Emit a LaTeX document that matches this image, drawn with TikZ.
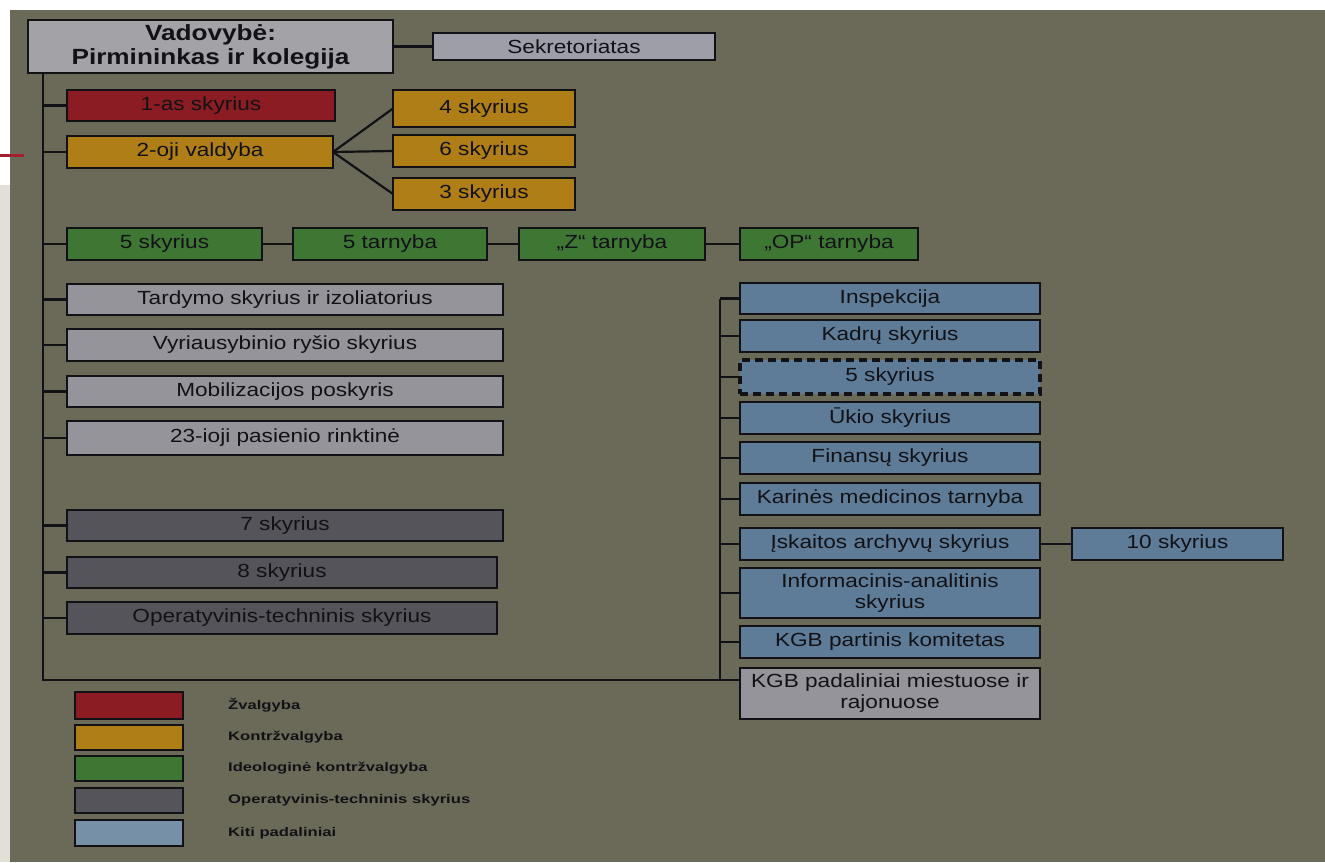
\documentclass[tikz,border=0pt]{standalone}
\usepackage{fontspec}
\setmainfont{Liberation Sans}[FakeStretch=1.19]
\newfontfamily\legfont{Liberation Sans}[FakeStretch=1.33]
\definecolor{panel}{RGB}{107,105,88}
\definecolor{strip}{RGB}{226,223,217}
\definecolor{lgray}{RGB}{148,148,154}
\definecolor{vgray}{RGB}{162,162,167}
\definecolor{sgray}{RGB}{158,158,168}
\definecolor{kred}{RGB}{140,28,36}
\definecolor{korange}{RGB}{176,126,22}
\definecolor{kgreen}{RGB}{62,118,52}
\definecolor{kdark}{RGB}{84,84,90}
\definecolor{kblue}{RGB}{94,124,152}
\definecolor{ink}{RGB}{18,18,22}
\definecolor{redline}{RGB}{165,30,45}
\begin{document}
\begin{tikzpicture}[x=1pt,y=-1pt,
  kbox/.style={draw=ink, line width=2.5pt, inner sep=0pt, outer sep=0pt, text=ink,
    font=\fontsize{19}{21}\selectfont, align=center},
  dbox/.style={kbox, dash pattern=on 8pt off 5pt, line width=3.2pt},
  conn/.style={draw=ink, line width=2.2pt},
  legbox/.style={draw=ink, line width=2.6pt, inner sep=0pt, outer sep=0pt, minimum width=108pt},
  leglabel/.style={anchor=west, inner sep=0pt, text=ink, font=\legfont\bfseries\fontsize{12.5}{14}\selectfont}]
\useasboundingbox (0,0) rectangle (1325,862);
\fill[white] (0,0) rectangle (1325,862);
\fill[strip] (0,185) rectangle (10,862);
\fill[panel] (10,10) rectangle (1325,862);
\draw[redline, line width=3pt] (0,155) -- (24,155);

% head
\node[kbox, fill=vgray, minimum width=365pt, minimum height=53pt,
  font=\bfseries\fontsize{22}{24}\selectfont] (vad) at (210.5,46.5) {Vadovybė:\\Pirmininkas ir kolegija};
\node[kbox, fill=sgray, minimum width=282pt, minimum height=27pt] (sek) at (574,46.5) {Sekretoriatas};

% red / orange
\node[kbox, fill=kred, minimum width=268pt, minimum height=31pt] (s1) at (201,105.5) {1-as skyrius};
\node[kbox, fill=korange, minimum width=266pt, minimum height=32pt] (v2) at (200,152) {2-oji valdyba};
\node[kbox, fill=korange, minimum width=182pt, minimum height=37pt] (s4) at (484,108.5) {4 skyrius};
\node[kbox, fill=korange, minimum width=182pt, minimum height=32pt] (s6) at (484,151) {6 skyrius};
\node[kbox, fill=korange, minimum width=182pt, minimum height=32pt] (s3) at (484,194) {3 skyrius};

% green
\node[kbox, fill=kgreen, minimum width=195pt, minimum height=32pt] (g1) at (164.5,244) {5 skyrius};
\node[kbox, fill=kgreen, minimum width=194pt, minimum height=32pt] (g2) at (390,244) {5 tarnyba};
\node[kbox, fill=kgreen, minimum width=186pt, minimum height=32pt] (g3) at (612,244) {„Z“ tarnyba};
\node[kbox, fill=kgreen, minimum width=178pt, minimum height=32pt] (g4) at (829,244) {„OP“ tarnyba};

% light gray left
\node[kbox, fill=lgray, minimum width=436pt, minimum height=31pt] (tard) at (285,299.5) {Tardymo skyrius ir izoliatorius};
\node[kbox, fill=lgray, minimum width=436pt, minimum height=32pt] (vyr) at (285,345) {Vyriausybinio ryšio skyrius};
\node[kbox, fill=lgray, minimum width=436pt, minimum height=31pt] (mob) at (285,391.5) {Mobilizacijos poskyris};
\node[kbox, fill=lgray, minimum width=436pt, minimum height=34pt] (pas) at (285,438) {23-ioji pasienio rinktinė};

% dark gray left
\node[kbox, fill=kdark, minimum width=436pt, minimum height=31pt] (s7) at (285,525.5) {7 skyrius};
\node[kbox, fill=kdark, minimum width=430pt, minimum height=31pt] (s8) at (282,572.5) {8 skyrius};
\node[kbox, fill=kdark, minimum width=430pt, minimum height=32pt] (ot) at (282,618) {Operatyvinis-techninis skyrius};

% right column
\node[kbox, fill=kblue, minimum width=300pt, minimum height=31pt] (insp) at (890,298.5) {Inspekcija};
\node[kbox, fill=kblue, minimum width=300pt, minimum height=32pt] (kadr) at (890,336) {Kadrų skyrius};
\node[dbox, fill=kblue, minimum width=300pt, minimum height=34pt] (s5d) at (890,377) {5 skyrius};
\node[kbox, fill=kblue, minimum width=300pt, minimum height=32pt] (ukio) at (890,418) {Ūkio skyrius};
\node[kbox, fill=kblue, minimum width=300pt, minimum height=32pt] (fin) at (890,458) {Finansų skyrius};
\node[kbox, fill=kblue, minimum width=300pt, minimum height=32pt] (kar) at (890,499) {Karinės medicinos tarnyba};
\node[kbox, fill=kblue, minimum width=300pt, minimum height=32pt] (isk) at (890,544) {Įskaitos archyvų skyrius};
\node[kbox, fill=kblue, minimum width=300pt, minimum height=50pt] (info) at (890,593) {Informacinis-analitinis\\skyrius};
\node[kbox, fill=kblue, minimum width=300pt, minimum height=32pt] (kgbp) at (890,642) {KGB partinis komitetas};
\node[kbox, fill=lgray, minimum width=300pt, minimum height=51pt] (kgbm) at (890,693.5) {KGB padaliniai miestuose ir\\rajonuose};
\node[kbox, fill=kblue, minimum width=211pt, minimum height=32pt] (s10) at (1177.5,544) {10 skyrius};

% connectors
\draw[conn] (vad.east) -- (sek.west);
\coordinate (ltop) at (43,73);
\coordinate (lbot) at (43,680);
\draw[conn] (ltop) -- (lbot) -- (kgbm.west |- lbot);
\foreach \n in {s1,v2,g1,tard,vyr,mob,pas,s7,s8,ot}
  \draw[conn] (\n.west -| ltop) -- (\n.west);
\draw[conn] (v2.east) -- (s4.west);
\draw[conn] (v2.east) -- (s6.west);
\draw[conn] (v2.east) -- (s3.west);
\draw[conn] (g1.east) -- (g2.west);
\draw[conn] (g2.east) -- (g3.west);
\draw[conn] (g3.east) -- (g4.west);
\coordinate (rtop) at (720,298.5);
\coordinate (rbot) at (720,680);
\draw[conn] (rtop) -- (rbot);
\foreach \n in {insp,kadr,s5d,ukio,fin,kar,isk,info,kgbp}
  \draw[conn] (\n.west -| rtop) -- (\n.west);
\draw[conn] (isk.east) -- (s10.west);

% legend
\node[legbox, fill=kred, minimum height=27pt] (l1) at (129,705.5) {};
\node[legbox, fill=korange, minimum height=25pt] (l2) at (129,737.5) {};
\node[legbox, fill=kgreen, minimum height=25pt] (l3) at (129,768.5) {};
\node[legbox, fill=kdark, minimum height=25pt] (l4) at (129,800.5) {};
\node[legbox, fill=kblue!85!white, minimum height=26pt] (l5) at (129,833) {};
\node[leglabel] (t1) at (228,705.5) {Žvalgyba};
\node[leglabel] (t2) at (228,737.5) {Kontržvalgyba};
\node[leglabel] (t3) at (228,768.5) {Ideologinė kontržvalgyba};
\node[leglabel] (t4) at (228,800.5) {Operatyvinis-techninis skyrius};
\node[leglabel] (t5) at (228,833) {Kiti padaliniai};
\end{tikzpicture}
\end{document}
